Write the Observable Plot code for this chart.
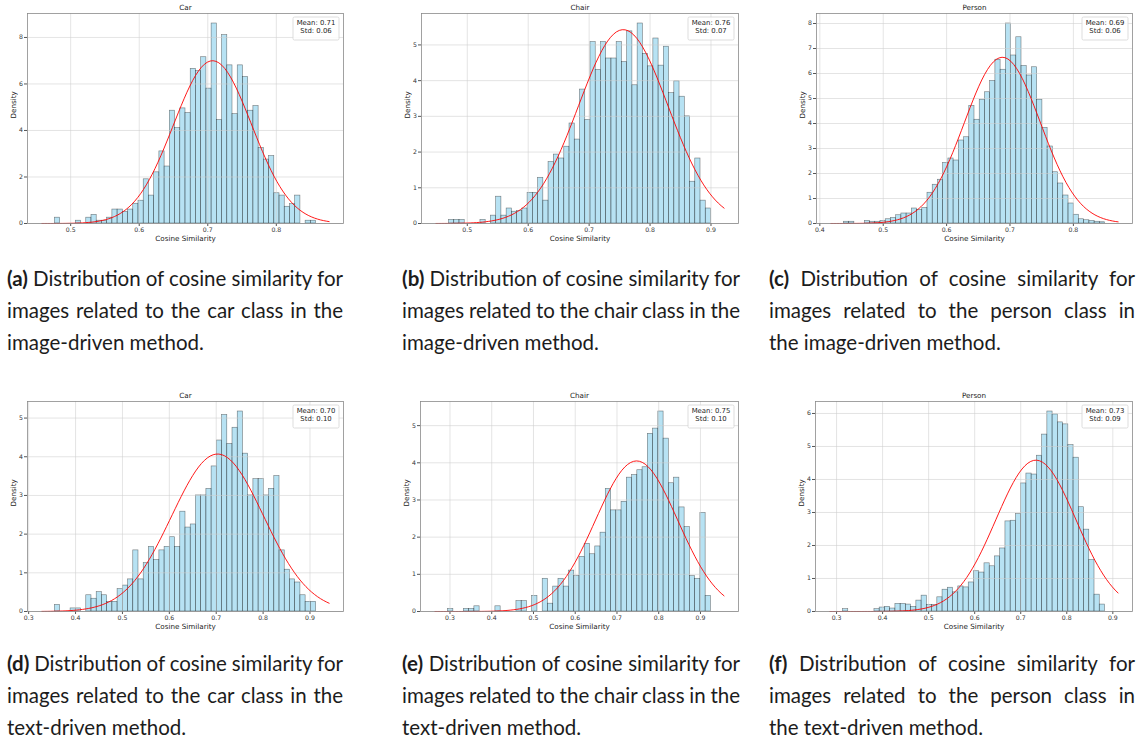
<!DOCTYPE html>
<html>
<head>
<meta charset="utf-8">
<script src="https://cdn.jsdelivr.net/npm/d3@7"></script>
<script src="https://cdn.jsdelivr.net/npm/@observablehq/plot@0.6"></script>
<style>
  body { margin: 0; background: #fff; }
  #fig { position: relative; width: 1137px; height: 742px; overflow: hidden; background: #fff; }
  .panel { position: absolute; }
  .cap { position: absolute; font-family: Lato, "Open Sans", sans-serif; font-size: 20.5px; line-height: 32px; color: #1c1c1c; }
  .cap div { white-space: nowrap; }
  .cap span.line { display: inline-block; white-space: nowrap; }
  .cap b { font-weight: 700; }
</style>
</head>
<body>
<div id="fig"></div>
<script>
// Density of each of the 50 equal-width bins, per class and method
const carImage = [0.25,0,0,0,0.12,0,0.25,0.37,0.12,0.12, 0.25,0.6,0.6,0.5,0.6,0.85,0.98,1.9,1.2,2.2, 3.1,2.45,4.85,4.1,4.95,4.75,6.65,6.55,7.15,5.8, 8.6,4.45,8.1,6.8,4.7,6.8,6.3,4.85,5.05,3.25, 2.75,2.9,1.3,1.2,0.72,0.83,1.2,0,0.12,0.12];
const chairImage = [0.1,0.1,0.1,0,0,0,0.1,0,0.22,0.75, 0.22,0.42,0.33,0.35,0.42,0.86,0.86,1.28,0.64,1.72, 1.93,1.82,2.15,2.8,2.35,3.75,2.9,5.08,4.3,5.08, 4.62,4.62,5.08,4.52,5.38,3.87,5.6,4.75,4.4,5.18, 4.42,4.95,3.65,3.98,3.55,3.0,1.17,1.82,0.64,0.42];
const personImage = [0.07,0.07,0,0,0.1,0.07,0.07,0.1,0.17,0.22, 0.33,0.4,0.4,0.6,0.55,0.62,1.23,1.55,1.75,2.42, 2.6,2.52,3.32,3.45,4.7,4.15,4.95,5.25,5.7,6.55, 6.15,8.0,6.72,7.45,6.3,5.92,6.25,4.95,3.82,3.08, 2.05,1.6,1.12,0.8,0.35,0.17,0.13,0.1,0.07,0.05];
const carText = [0.17,0,0,0.08,0.08,0,0.42,0.33,0.5,0.42, 0.25,0.25,0.58,0.67,0.83,1.58,0.83,1.25,1.67,1.33, 1.58,1.67,1.92,1.67,2.58,2.17,2.25,3.0,3.0,3.17, 3.75,4.42,5.08,4.33,4.75,5.17,4.08,3.0,3.42,3.42, 3.0,3.17,3.5,1.58,1.08,0.83,0.75,0.42,0.25,0.25];
const chairText = [0.07,0,0,0.07,0.07,0.14,0,0,0,0.14, 0,0,0,0.28,0.28,0,0.42,0,0.88,0.21, 0.67,0.88,0.67,1.1,0.95,1.47,1.82,1.54,1.75,2.12, 3.3,2.72,2.72,2.95,3.6,3.67,3.8,3.88,4.78,4.92, 5.38,4.65,3.45,3.6,2.8,2.27,0.95,0.88,2.65,0.42];
const personText = [0.07,0,0,0,0,0,0.07,0.12,0.14,0.09, 0.23,0.23,0.21,0.14,0.33,0.48,0.2,0.2,0.43,0.66, 0.72,0.58,0.76,0.73,0.88,1.22,1.18,1.46,1.37,1.67, 1.91,2.73,2.75,2.95,3.88,4.18,4.15,4.72,5.36,6.06, 5.97,5.73,5.67,5.04,4.66,3.16,2.48,1.56,0.51,0.21];

const densities = [carImage, chairImage, personImage, carText, chairText, personText];
const titles = ["Car", "Chair", "Person", "Car", "Chair", "Person"];
// histogram range (first bin edge, last bin edge)
const binLo = [0.477, 0.470, 0.438, 0.356, 0.2955, 0.314];
const binHi = [0.858, 0.900, 0.850, 0.913, 0.925, 0.883];
// fitted normal parameters
const means = [0.707, 0.756, 0.688, 0.703, 0.747, 0.733];
const stds  = [0.057, 0.0735, 0.060, 0.098, 0.0985, 0.087];
const yTickStep = [2, 1, 1, 1, 1, 1];

const captions = [
  ["(a)", ["Distribution of cosine similarity for", "images related to the car class in the", "image-driven method."]],
  ["(b)", ["Distribution of cosine similarity for", "images related to the chair class in the", "image-driven method."]],
  ["(c)", ["Distribution of cosine similarity for", "images related to the person class in", "the image-driven method."]],
  ["(d)", ["Distribution of cosine similarity for", "images related to the car class in the", "text-driven method."]],
  ["(e)", ["Distribution of cosine similarity for", "images related to the chair class in the", "text-driven method."]],
  ["(f)", ["Distribution of cosine similarity for", "images related to the person class in", "the text-driven method."]]
];

// page layout: plot frame boxes and caption boxes
const frameLeft = [27, 421, 816, 27, 420, 815];
const frameTop  = [13, 13, 13, 401, 401, 401];
const frameW    = [316, 317, 316, 316, 318, 317];
const frameH = 210;
const capLeft  = [7, 402, 769, 7, 402, 769];
const capWidth = [336, 338, 366, 336, 338, 366];
const capTop   = [262, 262, 262, 647, 647, 647];

const M = {left: 30, right: 4, top: 14, bottom: 26};
const fig = document.getElementById("fig");

function statsBox(mean, std) {
  return (index, scales, values, dims) => {
    const bw = 46, bh = 23;
    const x0 = dims.width - dims.marginRight - 4 - bw;
    const y0 = dims.marginTop + 4;
    const g = d3.create("svg:g");
    g.append("rect")
      .attr("x", x0).attr("y", y0).attr("width", bw).attr("height", bh)
      .attr("rx", 1.5).attr("fill", "#fff").attr("fill-opacity", 0.85)
      .attr("stroke", "#d4d4d4").attr("stroke-width", 0.8);
    const t = g.append("text")
      .attr("text-anchor", "middle")
      .attr("font-family", "DejaVu Sans, sans-serif")
      .attr("font-size", 6.9).attr("fill", "#222");
    t.append("tspan").attr("x", x0 + bw / 2).attr("y", y0 + 8).text(`Mean: ${mean.toFixed(2)}`);
    t.append("tspan").attr("x", x0 + bw / 2).attr("y", y0 + 16.4).text(`Std: ${std.toFixed(2)}`);
    return g.node();
  };
}

const justifyRows = [];

densities.forEach((dens, i) => {
  const lo = binLo[i], hi = binHi[i], w = (hi - lo) / dens.length;
  const bars = dens.map((d, k) => ({x1: lo + k * w, x2: lo + (k + 1) * w, y: d}));
  const span = hi - lo, cLo = lo - 0.05 * span, cHi = hi + 0.05 * span;
  const curve = d3.range(100).map(k => {
    const x = cLo + (cHi - cLo) * k / 99;
    const z = (x - means[i]) / stds[i];
    return {x, y: Math.exp(-0.5 * z * z) / (stds[i] * Math.sqrt(2 * Math.PI))};
  });
  const pad = 0.05 * (cHi - cLo);
  const xDomain = [cLo - pad, cHi + pad];
  const yMax = 1.05 * Math.max(d3.max(dens), d3.max(curve, d => d.y));
  const xTicks = d3.range(Math.ceil(xDomain[0] * 10 - 1e-9), Math.floor(xDomain[1] * 10 + 1e-9) + 1).map(k => k / 10);
  const yTicks = d3.range(0, yMax + 1e-9, yTickStep[i]);

  const chart = Plot.plot({
    width: M.left + frameW[i] + M.right,
    height: M.top + frameH + M.bottom,
    marginLeft: M.left, marginRight: M.right, marginTop: M.top, marginBottom: M.bottom,
    style: {fontFamily: "DejaVu Sans, sans-serif", fontSize: "6.2px", color: "#333", background: "transparent", overflow: "visible"},
    x: {domain: xDomain},
    y: {domain: [0, yMax]},
    marks: [
      Plot.rectY(bars, {x1: "x1", x2: "x2", y: "y", fill: "skyblue", fillOpacity: 0.6, stroke: "black", strokeOpacity: 0.5, strokeWidth: 0.6}),
      Plot.gridX(xTicks, {stroke: "#cfcfcf", strokeOpacity: 0.8, strokeWidth: 0.7}),
      Plot.gridY(yTicks, {stroke: "#cfcfcf", strokeOpacity: 0.8, strokeWidth: 0.7}),
      Plot.line(curve, {x: "x", y: "y", stroke: "red", strokeWidth: 0.9}),
      Plot.axisX(xTicks, {tickSize: 3, tickPadding: 1.5, tickFormat: d3.format(".1f"), label: null, stroke: "#555"}),
      Plot.axisY(yTicks, {tickSize: 3, tickPadding: 1.5, tickFormat: d3.format("d"), label: null, stroke: "#555"}),
      Plot.frame({stroke: "#8a8a8a", strokeWidth: 0.8}),
      Plot.text([titles[i]], {frameAnchor: "top", dy: -5.5, fontSize: 7.2, fill: "#222", lineAnchor: "middle"}),
      Plot.text(["Cosine Similarity"], {frameAnchor: "bottom", dy: 15, fontSize: 7.2, fill: "#222", lineAnchor: "middle"}),
      Plot.text(["Density"], {frameAnchor: "left", dx: -13.5, rotate: -90, fontSize: 7.2, fill: "#222", lineAnchor: "middle"}),
      statsBox(means[i], stds[i])
    ]
  });
  const holder = document.createElement("div");
  holder.className = "panel";
  holder.style.left = (frameLeft[i] - M.left) + "px";
  holder.style.top = (frameTop[i] - M.top) + "px";
  holder.appendChild(chart);
  fig.appendChild(holder);

  // caption below the plot, justified line by line
  const cap = document.createElement("div");
  cap.className = "cap";
  cap.style.left = capLeft[i] + "px";
  cap.style.top = capTop[i] + "px";
  cap.style.width = capWidth[i] + "px";
  const [tag, lines] = captions[i];
  lines.forEach((line, j) => {
    const row = document.createElement("div");
    const s = document.createElement("span");
    s.className = "line";
    if (j === 0) {
      const b = document.createElement("b");
      b.textContent = tag;
      s.appendChild(b);
      s.appendChild(document.createTextNode(" " + line));
    } else {
      s.textContent = line;
    }
    row.appendChild(s);
    cap.appendChild(row);
    if (j < lines.length - 1) justifyRows.push({span: s, width: capWidth[i]});
  });
  fig.appendChild(cap);
});

// spread the words of every non-final caption line across the caption width
function justify() {
  for (const {span, width} of justifyRows) {
    span.style.wordSpacing = "0px";
    const natural = span.getBoundingClientRect().width;
    const gaps = (span.textContent.match(/ /g) || []).length;
    if (gaps > 0) span.style.wordSpacing = ((width - natural) / gaps) + "px";
  }
}
justify();
if (document.fonts && document.fonts.ready) document.fonts.ready.then(justify);
</script>
</body>
</html>
